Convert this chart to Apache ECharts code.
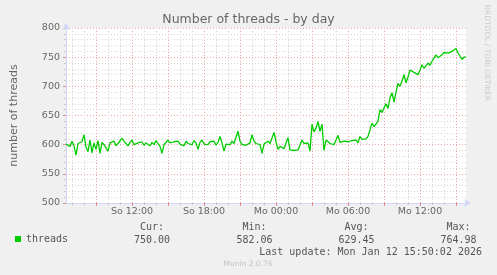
<!DOCTYPE html>
<html>
<head>
<meta charset="utf-8">
<script src="https://cdn.jsdelivr.net/npm/echarts@6/dist/echarts.min.js"></script>
<style>
html,body{margin:0;padding:0;background:#F0F0F0;}
#chart{width:497px;height:275px;}
</style>
</head>
<body>
<div id="chart"></div>
<script>
// ---- data ----
const seriesName = 'threads';
const startHour = 6.5;          // So 06:30 (hours since Sunday 00:00)
const stepHours = 1 / 6;        // 10 minute samples
const threads = [
  601, 604, 597, 606, 598, 582, 602, 599, 605, 617,
  596, 588, 608, 586, 603, 592, 607, 585, 604, 600,
  598, 589, 603, 600, 606, 598, 602, 604, 611, 606,
  602, 598, 604, 608, 600, 597, 603, 601, 605, 599,
  603, 606, 598, 604, 600, 607, 602, 597, 585, 600,
  603, 608, 603, 600, 605, 602, 606, 601, 604, 598,
  606, 602, 604, 600, 607, 603, 592, 604, 608, 601,
  603, 600, 605, 602, 606, 599, 604, 614, 603, 589,
  601, 604, 600, 606, 602, 603, 623, 606, 600, 601,
  599, 602, 603, 617, 606, 602, 605, 600, 585, 601,
  603, 606, 602, 604, 621, 605, 592, 597, 594, 593,
  596, 612, 591, 589, 590, 588, 591, 589, 608, 602,
  600, 603, 589, 635, 622, 628, 640, 623, 635, 590,
  608, 606, 602, 604, 600, 603, 616, 604, 601, 606,
  603, 605, 602, 607, 604, 608, 603, 614, 609, 612,
  610, 614, 612, 637, 631, 634, 640, 660, 655, 663,
  670, 662, 680, 689, 673, 690, 705, 700, 709, 720,
  706, 716, 728, 727, 724, 726, 720, 728, 737, 731,
  735, 740, 736, 743, 745, 754, 749, 752, 754, 758,
  760, 757, 756, 760, 761, 765, 757, 752, 746, 750,
  750
];
const xMin = 6.5, xMax = 6.5 + 400 / 12;
const xLabelHours = [12, 18, 24, 30, 36];
const xLabelTexts = ['So 12:00', 'So 18:00', 'Mo 00:00', 'Mo 06:00', 'Mo 12:00'];
const yMin = 500, yMax = 800, yStep = 50;
const titleText = 'Number of threads - by day';
const yName = 'number of threads';
const statHeads = ['Cur:', 'Min:', 'Avg:', 'Max:'];
const statValues = ['750.00', '582.06', '629.45', '764.98'];
const lastUpdate = 'Last update: Mon Jan 12 15:50:02 2026';
const footer = 'Munin 2.0.76';
const sideText = 'RRDTOOL / TOBI OETIKER';

// ---- build ----
const data = threads.map((v, i) => [startHour + i * stepHours, v]);
const minorHours = [], majorHours = [];
for (let h = Math.ceil(xMin); h <= Math.floor(xMax); h++) {
  if (h % 3 === 0) majorHours.push(h); else minorHours.push(h);
}
const FONT = 'DejaVu Sans';
const MONO = 'DejaVu Sans Mono';
const AXIS = '#CFD6F8';
const MINOR = '#d6d6d6';
const MAJOR = '#eba3a3';

const chart = echarts.init(document.getElementById('chart'), null, {renderer: 'canvas'});
const statX = [152, 254.5, 356.5, 458.5];
const graphics = [];
statHeads.forEach((t, i) => {
  graphics.push({type: 'text', x: statX[i], y: 227, style: {text: t, font: '10px ' + MONO, fill: '#555', align: 'center', verticalAlign: 'middle'}});
  graphics.push({type: 'text', x: statX[i], y: 240, style: {text: statValues[i], font: '10px ' + MONO, fill: '#555', align: 'center', verticalAlign: 'middle'}});
});
graphics.push({type: 'text', x: 482, y: 252, style: {text: lastUpdate, font: '10px ' + MONO, fill: '#555', align: 'right', verticalAlign: 'middle'}});
graphics.push({type: 'text', x: 248, y: 264, style: {text: footer, font: '7.5px ' + FONT, fill: '#c4c4c4', align: 'center', verticalAlign: 'middle'}});
graphics.push({type: 'text', x: 487, y: 53, rotation: -Math.PI / 2, style: {text: sideText, font: '7.5px ' + FONT, fill: '#cccccc', align: 'center', verticalAlign: 'middle'}});

chart.setOption({
  backgroundColor: '#F0F0F0',
  animation: false,
  textStyle: {fontFamily: FONT},
  title: {
    text: titleText, left: 'center', top: 12, padding: 0,
    textStyle: {fontFamily: FONT, fontSize: 12.5, fontWeight: 'normal', color: '#666', lineHeight: 15}
  },
  legend: {
    data: [seriesName], left: 15, top: 234, icon: 'rect', itemWidth: 6, itemHeight: 6, padding: 0,
    textStyle: {fontFamily: MONO, fontSize: 10, color: '#555'}
  },
  grid: {left: 66, top: 28, width: 400, height: 175, show: true, backgroundColor: '#ffffff', borderWidth: 0, containLabel: false},
  xAxis: [
    {
      type: 'value', min: xMin, max: xMax, position: 'bottom',
      axisLine: {show: true, lineStyle: {color: AXIS, width: 1}, symbol: ['none', 'arrow'], symbolSize: [6, 7], symbolOffset: [0, 5]},
      axisTick: {show: true, length: 2, customValues: minorHours, lineStyle: {color: '#c8c8c8'}},
      axisLabel: {show: false},
      splitLine: {show: true, lineStyle: {color: MINOR, type: [1, 2], width: 1}}
    },
    {
      type: 'value', min: xMin, max: xMax, position: 'bottom',
      axisLine: {show: false},
      axisTick: {show: true, length: 3, customValues: majorHours, lineStyle: {color: '#e08a8a'}},
      axisLabel: {
        show: true, customValues: xLabelHours, margin: 4, color: '#666', fontFamily: FONT, fontSize: 9.5,
        formatter: v => xLabelTexts[xLabelHours.indexOf(v)] || ''
      },
      splitLine: {show: true, lineStyle: {color: MAJOR, type: [1, 2], width: 1}}
    }
  ],
  yAxis: {
    type: 'value', min: yMin, max: yMax, interval: yStep,
    name: yName, nameLocation: 'middle', nameGap: 46,
    nameTextStyle: {fontFamily: FONT, fontSize: 11, color: '#666'},
    axisLine: {show: true, lineStyle: {color: AXIS, width: 1}, symbol: ['none', 'arrow'], symbolSize: [6, 7], symbolOffset: [0, 5]},
    axisTick: {show: true, length: 3, lineStyle: {color: '#e08a8a'}},
    minorTick: {show: true, splitNumber: 5, length: 2, lineStyle: {color: '#c8c8c8'}},
    axisLabel: {color: '#666', fontFamily: FONT, fontSize: 9.5, margin: 6},
    splitLine: {show: true, lineStyle: {color: MAJOR, type: [1, 2], width: 1}},
    minorSplitLine: {show: true, lineStyle: {color: MINOR, type: [1, 2], width: 1}}
  },
  series: [{
    name: seriesName, type: 'line', data: data, xAxisIndex: 0,
    showSymbol: false, symbol: 'none', color: '#00cc00',
    lineStyle: {color: '#00cc00', width: 1.3}
  }],
  graphic: graphics
});
</script>
</body>
</html>
